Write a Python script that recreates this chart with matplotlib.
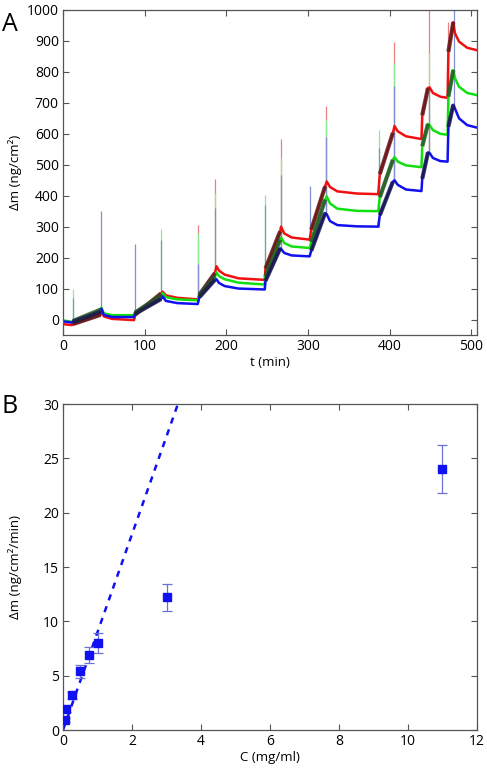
import matplotlib
matplotlib.use('Agg')
import matplotlib.pyplot as plt
import numpy as np

plt.rcParams['font.family'] = ['Open Sans', 'DejaVu Sans']

# ---- panel A: mass uptake traces (t in min, dm in ng/cm2)
t_red = [0, 11, 12, 30, 46, 47, 50, 60, 87, 88, 120, 122, 126, 140, 165, 167, 186, 188, 191, 198, 215, 247,
         248, 266, 267, 271, 280, 302, 304, 321, 323, 327, 336, 360, 386, 388, 404, 406, 410, 420, 439, 440, 447,
         449, 453, 462, 471, 472, 478, 480, 485, 495, 507]
m_red = [-15, -18, -15, 0, 15, 28, 10, 2, -2, 15, 84, 90, 78, 70, 65, 80, 150, 172, 158, 145, 133, 128,
         165, 285, 300, 278, 265, 258, 290, 430, 446, 428, 414, 407, 405, 470, 603, 625, 608, 592, 583, 660, 748,
         750, 732, 720, 716, 865, 961, 925, 898, 878, 870]

t_green = t_red
m_green = [-3, -8, -5, 10, 32, 38, 20, 14, 14, 22, 78, 85, 72, 65, 62, 78, 140, 152, 140, 130, 119, 113,
           140, 258, 265, 247, 236, 231, 250, 387, 398, 375, 358, 351, 350, 395, 516, 525, 510, 498, 492, 560, 632,
           628, 612, 600, 597, 720, 806, 780, 752, 732, 725]

t_blue = t_red
m_blue = [-6, -10, -8, 5, 25, 35, 15, 8, 8, 18, 66, 75, 60, 53, 50, 72, 128, 130, 118, 108, 100, 97,
          125, 230, 228, 215, 207, 204, 222, 344, 340, 318, 305, 301, 300, 337, 445, 450, 435, 420, 415, 455, 540,
          538, 522, 512, 510, 623, 694, 682, 650, 628, 620]

# rising (injection) segments covered by the fitted slopes
fit_start = [12, 88, 167, 248, 304, 388, 440, 472]
fit_end = [46, 120, 186, 266, 321, 404, 447, 478]

# injection spikes
spike_t = [12, 46, 88, 120, 165, 186, 247, 267, 303, 322, 387, 405, 440, 448, 472, 479]
spike_base = [-10, 20, 5, 70, 55, 130, 100, 230, 205, 345, 300, 445, 585, 540, 600, 690]
spike_red = [np.nan, np.nan, np.nan, np.nan, 306, 455, np.nan, 584, np.nan, 690, np.nan, 898, 690, 1000, 960, np.nan]
spike_green = [100, np.nan, np.nan, 293, 280, 410, 403, 523, np.nan, 645, 613, 828, np.nan, 860, 820, np.nan]
spike_blue = [70, 352, 245, 258, 180, 360, 371, 468, 432, 591, 555, 755, np.nan, 750, np.nan, 1000]

# ---- panel B: initial rate vs concentration
conc = [0.05, 0.1, 0.25, 0.5, 0.75, 1.0, 3.0, 11.0]
rate = [0.9, 1.9, 3.2, 5.4, 6.9, 8.0, 12.2, 24.0]
rate_err = [0.2, 0.2, 0.3, 0.6, 0.7, 0.9, 1.25, 2.2]
fit_c = [0, 3.33]
fit_rate = [0, 30]

RED, GREEN, BLUE = '#f01010', '#10e010', '#1010f0'
DARK = {RED: '#5c1c1c', GREEN: '#2a542a', BLUE: '#1c1c48'}
LIGHT = {RED: '#e88080', GREEN: '#90e890', BLUE: '#8090d0'}

fig = plt.figure(figsize=(4.87, 7.69), dpi=100)
axA = fig.add_axes([0.1294, 0.5644, 0.850, 0.4226])
axB = fig.add_axes([0.1294, 0.0507, 0.850, 0.4239])

for col, peaks in [(RED, spike_red), (GREEN, spike_green), (BLUE, spike_blue)]:
    for t, b, p in zip(spike_t, spike_base, peaks):
        if not np.isnan(p):
            axA.vlines(t, b, p, color=LIGHT[col], lw=0.9, zorder=1)

for col, tt, mm in [(RED, t_red, m_red), (GREEN, t_green, m_green), (BLUE, t_blue, m_blue)]:
    axA.plot(tt, mm, color=col, lw=1.8, zorder=2)
    lookup = dict(zip(tt, mm))
    for a, b in zip(fit_start, fit_end):
        axA.plot([a, b], [lookup[a], lookup[b]], color=DARK[col], lw=3.0, alpha=0.85,
                 solid_capstyle='butt', zorder=3)

axA.set_xlim(0, 507)
axA.set_ylim(-50, 1000)
axA.set_xticks([0, 100, 200, 300, 400, 500])
axA.set_yticks(range(0, 1001, 100))
axA.set_xlabel('t (min)', fontsize=9.5, labelpad=1)
axA.set_ylabel('Δm (ng/cm²)', fontsize=9.5)

axB.plot(fit_c, fit_rate, color=BLUE, lw=1.8, dashes=(2.5, 2.5), zorder=2)
axB.errorbar(conc, rate, yerr=rate_err, fmt='none', ecolor='#6a70d8', elinewidth=0.9,
             capsize=3.5, capthick=0.9, zorder=3)
axB.plot(conc, rate, 's', color=BLUE, ms=5.5, zorder=4)
axB.set_xlim(0, 12)
axB.set_ylim(0, 30)
axB.set_xticks(range(0, 13, 2))
axB.set_yticks(range(0, 31, 5))
axB.set_xlabel('C (mg/ml)', fontsize=9.5, labelpad=1)
axB.set_ylabel('Δm (ng/cm²/min)', fontsize=9.5)

for ax in (axA, axB):
    ax.tick_params(direction='in', top=True, right=True, length=4, width=0.8,
                   labelsize=10, color='#555555', pad=3)
    ax.yaxis.set_label_coords(-0.098, 0.5)
    for s in ax.spines.values():
        s.set_color('#555555')
        s.set_linewidth(0.9)

fig.text(0.004, 0.985, 'A', fontsize=18, va='top', ha='left')
fig.text(0.004, 0.487, 'B', fontsize=18, va='top', ha='left')

fig.savefig('out.png', dpi=100)
